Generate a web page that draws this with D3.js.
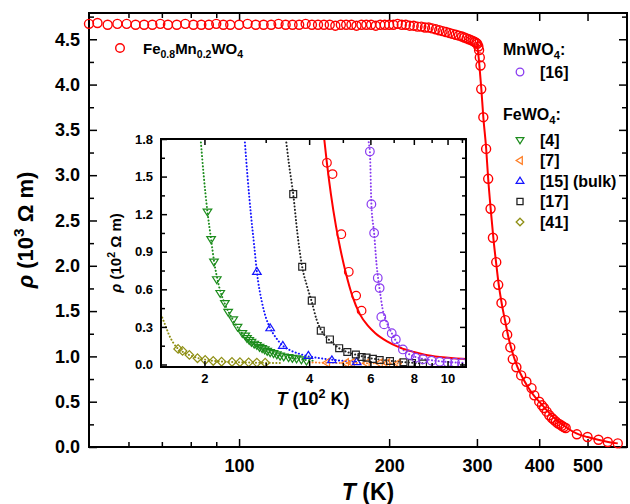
<!DOCTYPE html>
<html>
<head>
<meta charset="utf-8">
<script src="https://cdn.jsdelivr.net/npm/d3@7"></script>
<style>
body { margin: 0; background: #fff; }
text { font-family: "Liberation Sans", Arial, sans-serif; font-weight: bold; fill: #000; }
</style>
</head>
<body>
<script>
// ---- main data: Fe0.8Mn0.2WO4, T in K, rho in 10^3 Ohm m
const mainT = [50, 52, 54.5, 57, 59.5, 62, 64.5, 67, 69.5, 72, 75, 78, 81, 84, 87, 90, 93, 96, 100,
  104, 108, 112, 116, 120, 124, 128, 132, 136, 140, 144, 148, 152, 156, 160, 164, 168, 172, 176, 180,
  184, 188, 192, 196, 200, 204, 208, 212, 216, 220, 224, 228, 232, 236, 240, 244, 248, 252, 256, 260,
  264, 268, 272, 276, 280, 283, 286, 289, 292, 295, 297, 299, 300.5, 302, 303, 304, 305, 306, 309,
  313, 316, 319.5, 323, 328, 331, 336, 342, 345, 350, 354, 360, 368, 377, 386, 391, 400, 405, 409,
  414, 419, 424, 428, 432, 436, 440, 444, 448, 452, 476, 500, 526, 549, 575];
const mainRho = [4.67, 4.68, 4.66, 4.67, 4.67, 4.66, 4.66, 4.66, 4.67, 4.66, 4.66, 4.67, 4.66, 4.66, 4.66, 4.67, 4.66, 4.66, 4.66,
  4.67, 4.66, 4.66, 4.66, 4.67, 4.66, 4.66, 4.66, 4.67, 4.66, 4.66, 4.66, 4.66, 4.65, 4.66, 4.66, 4.66, 4.65, 4.66, 4.66,
  4.66, 4.65, 4.66, 4.66, 4.66, 4.66, 4.67, 4.66, 4.66, 4.65, 4.65, 4.64, 4.64, 4.63, 4.63, 4.62, 4.61, 4.60, 4.59, 4.58,
  4.57, 4.56, 4.55, 4.54, 4.53, 4.52, 4.51, 4.50, 4.49, 4.48, 4.47, 4.46, 4.45, 4.42, 4.38, 4.30, 4.21, 3.95, 3.64,
  3.29, 2.96, 2.63, 2.31, 2.04, 1.79, 1.59, 1.40, 1.24, 1.10, 0.97, 0.88, 0.79, 0.72, 0.65, 0.57, 0.50, 0.46, 0.43,
  0.39, 0.35, 0.32, 0.30, 0.28, 0.26, 0.25, 0.235, 0.22, 0.21, 0.14, 0.11, 0.08, 0.055, 0.04];
const fitT = [300, 303, 306, 309, 313, 316, 320, 324, 328, 332, 337, 342, 348, 355, 362, 370, 380, 390, 400,
  412, 425, 440, 455, 475, 500, 525, 550, 575];
const fitRho = [4.47, 4.25, 3.97, 3.64, 3.30, 2.96, 2.60, 2.28, 2.02, 1.78, 1.56, 1.38, 1.18, 1.01, 0.88, 0.77, 0.66, 0.57, 0.50,
  0.42, 0.34, 0.27, 0.21, 0.15, 0.11, 0.08, 0.056, 0.04];

const mainXTicks = [100, 200, 300, 400, 500];
const mainXMinor = [60, 70, 80, 90];
const mainYTicks = [0, 0.5, 1.0, 1.5, 2.0, 2.5, 3.0, 3.5, 4.0, 4.5];
const mainYMinor = [0.25, 0.75, 1.25, 1.75, 2.25, 2.75, 3.25, 3.75, 4.25, 4.75];

// ---- inset data: T in 10^2 K, rho in 10^2 Ohm m
const redT = [4.50, 4.67, 4.95, 5.20, 5.46, 5.66];
const redRho = [1.61, 1.52, 1.04, 0.74, 0.55, 0.43];
const redFitT = [4.42, 4.49, 4.62, 4.78, 4.92, 5.1, 5.32, 5.6, 5.9, 6.2, 6.7, 7.3, 8.0, 8.6, 9.5, 10.4, 11.3];
const redFitRho = [1.8, 1.63, 1.36, 1.1, 0.92, 0.73, 0.55, 0.4, 0.31, 0.25, 0.185, 0.135, 0.1, 0.078, 0.06, 0.05, 0.044];

const mnT = [5.98, 6.04, 6.15, 6.3, 6.38, 6.45, 6.57, 6.91, 7.1, 7.44, 7.79, 8.1, 8.5, 9.0, 9.5, 10.0, 10.5, 11.0];
const mnRho = [1.70, 1.28, 1.05, 0.69, 0.61, 0.38, 0.32, 0.25, 0.20, 0.12, 0.076, 0.054, 0.042, 0.03, 0.022, 0.018, 0.015, 0.012];
const mnFitT = [5.9, 5.98, 6.04, 6.15, 6.25, 6.38, 6.5, 6.7, 6.91, 7.1, 7.44, 7.8, 8.2, 8.8, 9.5, 10.5, 11.3];
const mnFitRho = [1.8, 1.70, 1.28, 1.05, 0.8, 0.6, 0.45, 0.33, 0.25, 0.19, 0.12, 0.078, 0.055, 0.038, 0.026, 0.016, 0.012];

const r4T = [2.04, 2.09, 2.13, 2.17, 2.22, 2.29, 2.34, 2.42, 2.49, 2.57, 2.62, 2.65, 2.69, 2.73, 2.78, 2.83, 2.88,
  2.93, 2.98, 3.03, 3.09, 3.16, 3.23, 3.30, 3.38, 3.49, 3.58, 3.68, 3.80, 3.93];
const r4Rho = [1.22, 1.00, 0.82, 0.68, 0.57, 0.49, 0.42, 0.36, 0.30, 0.25, 0.23, 0.21, 0.195, 0.18, 0.165, 0.155, 0.14,
  0.13, 0.12, 0.108, 0.098, 0.09, 0.08, 0.07, 0.063, 0.058, 0.052, 0.048, 0.04, 0.03];
const r4FitT = [1.95, 1.99, 2.04, 2.09, 2.13, 2.2, 2.3, 2.4, 2.5, 2.65, 2.8, 3.0, 3.25, 3.5, 3.8, 4.1];
const r4FitRho = [1.8, 1.51, 1.22, 1.0, 0.83, 0.63, 0.47, 0.37, 0.29, 0.21, 0.16, 0.11, 0.075, 0.055, 0.04, 0.03];

const r7T = [4.5, 5.1, 5.3, 5.85, 6.38, 6.7, 7.2];
const r7Rho = [0.014, 0.012, 0.012, 0.01, 0.01, 0.01, 0.008];
const r7FitT = [4.0, 4.5, 5.0, 5.5, 6.0, 6.5, 7.0, 7.5];
const r7FitRho = [0.016, 0.014, 0.012, 0.011, 0.01, 0.01, 0.009, 0.008];

const r15T = [2.83, 3.09, 3.36, 3.98, 4.65, 5.48];
const r15Rho = [0.74, 0.29, 0.15, 0.07, 0.035, 0.02];
const r15FitT = [2.61, 2.66, 2.72, 2.78, 2.83, 2.93, 3.0, 3.09, 3.2, 3.36, 3.55, 3.75, 3.98, 4.3, 4.65, 5.0, 5.5];
const r15FitRho = [1.8, 1.5, 1.2, 0.95, 0.74, 0.49, 0.38, 0.29, 0.22, 0.15, 0.11, 0.085, 0.065, 0.05, 0.038, 0.03, 0.022];

const r17T = [3.60, 3.82, 4.07, 4.32, 4.59, 4.88, 5.15, 5.45, 5.66, 5.85, 6.1, 6.38, 6.83, 7.47, 7.9, 8.5];
const r17Rho = [1.36, 0.78, 0.51, 0.27, 0.20, 0.13, 0.10, 0.08, 0.06, 0.055, 0.045, 0.036, 0.028, 0.018, 0.012, 0.007];
const r17FitT = [3.43, 3.5, 3.6, 3.7, 3.82, 3.95, 4.07, 4.2, 4.32, 4.59, 4.88, 5.2, 5.6, 6.0, 6.5, 7.0, 7.5, 8.0, 8.6];
const r17FitRho = [1.8, 1.6, 1.36, 1.05, 0.78, 0.62, 0.5, 0.36, 0.28, 0.19, 0.13, 0.095, 0.07, 0.05, 0.036, 0.027, 0.019, 0.013, 0.008];

const r41T = [1.68, 1.73, 1.81, 1.91, 2.01, 2.12, 2.24, 2.40, 2.53, 2.68, 2.83, 2.99];
const r41Rho = [0.124, 0.108, 0.076, 0.05, 0.036, 0.028, 0.022, 0.02, 0.018, 0.017, 0.015, 0.014];
const r41FitT = [1.5, 1.55, 1.58, 1.63, 1.68, 1.75, 1.85, 2.0, 2.2, 2.5, 2.9, 3.3];
const r41FitRho = [0.40, 0.30, 0.24, 0.17, 0.125, 0.095, 0.065, 0.04, 0.025, 0.018, 0.014, 0.012];

const insetXTicks = [2, 4, 6, 8, 10];
const insetXMinor = [3, 5, 7, 9, 11];
const insetYTicks = [0, 0.3, 0.6, 0.9, 1.2, 1.5, 1.8];
const insetYMinor = [0.15, 0.45, 0.75, 1.05, 1.35, 1.65];

const RED = "#ff0000", PURPLE = "#8a3cf0", GREEN = "#1c8c1c", ORANGE = "#ff7f27",
      BLUE = "#1414ff", BLACK = "#222222", OLIVE = "#8f8f14";

const svg = d3.select("body").append("svg").attr("width", 630).attr("height", 504);

// marker paths centred on 0,0
function sym(type, s) {
  if (type === "circle") return `M${s},0A${s},${s} 0 1,1 ${-s},0A${s},${s} 0 1,1 ${s},0Z`;
  if (type === "down") return `M${-s},${-s * 0.6}L${s},${-s * 0.6}L0,${s}Z`;
  if (type === "up") return `M${-s},${s * 0.6}L${s},${s * 0.6}L0,${-s}Z`;
  if (type === "left") return `M${s * 0.6},${-s}L${s * 0.6},${s}L${-s},0Z`;
  if (type === "square") return `M${-s * 0.8},${-s * 0.8}h${1.6 * s}v${1.6 * s}h${-1.6 * s}Z`;
  if (type === "diamond") return `M0,${-s}L${s},0L0,${s}L${-s},0Z`;
}

// text with sub/superscripts and italics
function rich(g, parts, size) {
  const t = g.append("text").attr("font-size", size);
  let shift = 0;
  parts.forEach(([s, kind]) => {
    const sp = t.append("tspan").text(s);
    let target = 0;
    if (kind === "sub") { sp.attr("font-size", size * 0.7); target = size * 0.28; }
    if (kind === "sup") { sp.attr("font-size", size * 0.7); target = -size * 0.4; }
    if (kind === "it") sp.attr("font-style", "italic");
    if (target !== shift) { sp.attr("dy", target - shift); shift = target; }
  });
  return t;
}

function styleAxis(g, size) {
  g.select(".domain").remove();
  g.selectAll(".tick line").attr("stroke", "#000").attr("stroke-width", 1.5);
  g.selectAll(".tick text").attr("font-size", size).attr("fill", "#000");
}

// ---------- main chart
const x = d3.scaleLog().domain([50, 600]).range([89, 627]);
const y = d3.scaleLinear().domain([0, 4.79]).range([447, 13]);

const main = svg.append("g");
[[d3.axisBottom(x).tickValues(mainXTicks).tickFormat(d3.format("d")).tickSize(-8).tickPadding(12), 447],
 [d3.axisBottom(x).tickValues(mainXMinor).tickFormat("").tickSize(-5), 447],
 [d3.axisTop(x).tickValues(mainXTicks).tickFormat("").tickSize(-8), 13],
 [d3.axisTop(x).tickValues(mainXMinor).tickFormat("").tickSize(-5), 13]
].forEach(([ax, ty]) => main.append("g").attr("transform", `translate(0,${ty})`).call(ax).call(g => styleAxis(g, 18)));
[[d3.axisLeft(y).tickValues(mainYTicks).tickFormat(d3.format(".1f")).tickSize(-8).tickPadding(9), 89],
 [d3.axisLeft(y).tickValues(mainYMinor).tickFormat("").tickSize(-5), 89],
 [d3.axisRight(y).tickValues(mainYTicks).tickFormat("").tickSize(-8), 627],
 [d3.axisRight(y).tickValues(mainYMinor).tickFormat("").tickSize(-5), 627]
].forEach(([ax, tx]) => main.append("g").attr("transform", `translate(${tx},0)`).call(ax).call(g => styleAxis(g, 18)));

main.append("rect").attr("x", 89).attr("y", 13).attr("width", 538).attr("height", 434)
  .attr("fill", "none").attr("stroke", "#000").attr("stroke-width", 2);

const mainLine = d3.line().x(d => x(d[0])).y(d => y(d[1])).curve(d3.curveMonotoneX);
main.append("path").datum(fitT.map((t, i) => [t, fitRho[i]])).attr("d", mainLine)
  .attr("fill", "none").attr("stroke", RED).attr("stroke-width", 2);
main.selectAll(".pt").data(mainT.map((t, i) => [t, mainRho[i]])).enter().append("circle")
  .attr("cx", d => x(d[0])).attr("cy", d => y(d[1])).attr("r", 4.5)
  .attr("fill", "none").attr("stroke", RED).attr("stroke-width", 1.4);

// main legend
main.append("path").attr("d", sym("circle", 4.3)).attr("transform", "translate(120,48)")
  .attr("fill", "none").attr("stroke", RED).attr("stroke-width", 1.4);
rich(main, [["Fe"], ["0.8", "sub"], ["Mn"], ["0.2", "sub"], ["WO"], ["4", "sub"]], 15)
  .attr("x", 143).attr("y", 54);

// right legend
rich(main, [["MnWO"], ["4", "sub"], [":"]], 16).attr("x", 503).attr("y", 55);
rich(main, [["FeWO"], ["4", "sub"], [":"]], 16).attr("x", 503).attr("y", 120);
const legItems = [
  ["circle", PURPLE, "[16]", 72],
  ["down", GREEN, "[4]", 140],
  ["left", ORANGE, "[7]", 160.5],
  ["up", BLUE, "[15] (bulk)", 181],
  ["square", BLACK, "[17]", 201.5],
  ["diamond", OLIVE, "[41]", 222]
];
legItems.forEach(([type, col, label, ly]) => {
  main.append("path").attr("d", sym(type, 3.8)).attr("transform", `translate(520,${ly})`)
    .attr("fill", "none").attr("stroke", col).attr("stroke-width", 1.3);
  main.append("text").attr("x", 540).attr("y", ly + 5.5).attr("font-size", 16).text(label);
});

// axis titles
rich(main, [["T", "it"], [" (K)"]], 23).attr("x", 368).attr("y", 500).attr("text-anchor", "middle");
rich(main, [["ρ", "it"], [" (10"], ["3", "sup"], [" Ω m)"]], 22)
  .attr("text-anchor", "middle").attr("transform", "translate(33,230) rotate(-90)");

// ---------- inset
const x2 = d3.scaleLog().domain([1.5, 11.3]).range([161, 466]);
const y2 = d3.scaleLinear().domain([-0.02, 1.8]).range([367, 139]);
const inset = svg.append("g");
inset.append("rect").attr("x", 161).attr("y", 139).attr("width", 305).attr("height", 228).attr("fill", "#fff");

svg.append("clipPath").attr("id", "clip").append("rect")
  .attr("x", 161).attr("y", 139).attr("width", 305).attr("height", 228);
const plot = inset.append("g").attr("clip-path", "url(#clip)");

const insetLine = d3.line().x(d => x2(d[0])).y(d => y2(d[1])).curve(d3.curveMonotoneX);
function fitPath(ts, rs, col, dotted) {
  const p = plot.append("path").datum(ts.map((t, i) => [t, rs[i]])).attr("d", insetLine)
    .attr("fill", "none").attr("stroke", col);
  if (dotted) p.attr("stroke-width", 2).attr("stroke-dasharray", "0.1,3.3").attr("stroke-linecap", "round");
  else p.attr("stroke-width", 2);
}
function marks(ts, rs, type, col) {
  plot.append("g").selectAll("path").data(ts.map((t, i) => [t, rs[i]])).enter().append("path")
    .attr("d", sym(type, 4.3))
    .attr("transform", d => `translate(${x2(d[0])},${y2(d[1])})`)
    .attr("fill", "none").attr("stroke", col).attr("stroke-width", 1.2);
}

fitPath(r41FitT, r41FitRho, OLIVE, true);
fitPath(r4FitT, r4FitRho, GREEN, true);
fitPath(r15FitT, r15FitRho, BLUE, true);
fitPath(r7FitT, r7FitRho, ORANGE, true);
fitPath(r17FitT, r17FitRho, BLACK, true);
fitPath(mnFitT, mnFitRho, PURPLE, true);
fitPath(redFitT, redFitRho, RED, false);

marks(r41T, r41Rho, "diamond", OLIVE);
marks(r4T, r4Rho, "down", GREEN);
marks(r7T, r7Rho, "left", ORANGE);
marks(r15T, r15Rho, "up", BLUE);
marks(r17T, r17Rho, "square", BLACK);
marks(mnT, mnRho, "circle", PURPLE);
marks(redT, redRho, "circle", RED);

[[d3.axisBottom(x2).tickValues(insetXTicks).tickFormat(d3.format("d")).tickSize(-6).tickPadding(7), 367],
 [d3.axisBottom(x2).tickValues(insetXMinor).tickFormat("").tickSize(-4), 367],
 [d3.axisTop(x2).tickValues(insetXTicks).tickFormat("").tickSize(-6), 139],
 [d3.axisTop(x2).tickValues(insetXMinor).tickFormat("").tickSize(-4), 139]
].forEach(([ax, ty]) => inset.append("g").attr("transform", `translate(0,${ty})`).call(ax).call(g => styleAxis(g, 13)));
[[d3.axisLeft(y2).tickValues(insetYTicks).tickFormat(d3.format(".1f")).tickSize(-6).tickPadding(8), 161],
 [d3.axisLeft(y2).tickValues(insetYMinor).tickFormat("").tickSize(-4), 161],
 [d3.axisRight(y2).tickValues(insetYTicks).tickFormat("").tickSize(-6), 466],
 [d3.axisRight(y2).tickValues(insetYMinor).tickFormat("").tickSize(-4), 466]
].forEach(([ax, tx]) => inset.append("g").attr("transform", `translate(${tx},0)`).call(ax).call(g => styleAxis(g, 13)));

inset.append("rect").attr("x", 161).attr("y", 139).attr("width", 305).attr("height", 228)
  .attr("fill", "none").attr("stroke", "#000").attr("stroke-width", 2);

rich(inset, [["T", "it"], [" (10"], ["2", "sup"], [" K)"]], 18).attr("x", 313).attr("y", 405).attr("text-anchor", "middle");
rich(inset, [["ρ", "it"], [" (10"], ["2", "sup"], [" Ω m)"]], 15)
  .attr("text-anchor", "middle").attr("transform", "translate(121,253) rotate(-90)");
</script>
</body>
</html>
